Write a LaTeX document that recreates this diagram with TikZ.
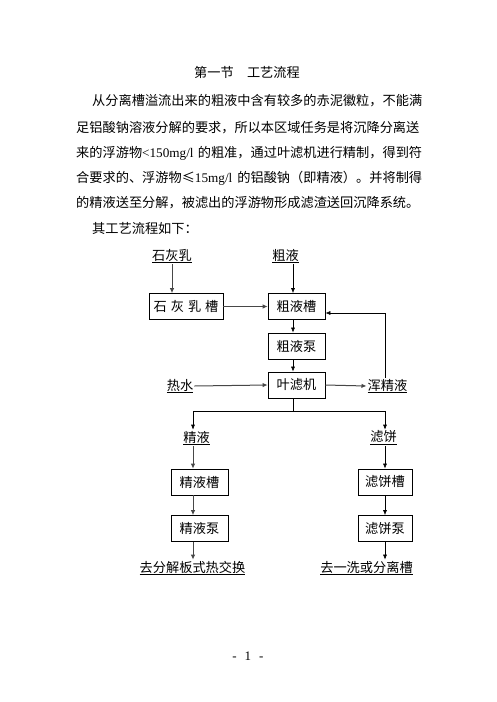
\documentclass[tikz,border=0pt]{standalone}
\usepackage{fontspec}
\setmainfont{Noto Sans CJK SC}
\newfontfamily\lat{Liberation Serif}
\usetikzlibrary{arrows.meta}
% glue between CJK characters, so lines can be justified
\XeTeXinterchartokenstate=1
\newcommand\cjkglue{\hskip 0pt plus 3pt\relax}
\XeTeXinterchartoks 0 1 = {\cjkglue}
\XeTeXinterchartoks 1 0 = {\cjkglue}
\XeTeXinterchartoks 1 1 = {\cjkglue}
\XeTeXinterchartoks 1 2 = {\cjkglue}
\XeTeXinterchartoks 1 3 = {\cjkglue}
\XeTeXinterchartoks 3 1 = {\cjkglue}
\XeTeXinterchartoks 2 1 = {\cjkglue}
\XeTeXinterchartoks 3 2 = {\cjkglue}
\XeTeXinterchartoks 3 0 = {\cjkglue}
\XeTeXinterchartoks 0 2 = {\cjkglue}
\begin{document}
\begin{tikzpicture}[x=1pt,y=-1pt,font=\fontsize{13.2}{16}\selectfont,
				textline/.style={anchor=base west,inner sep=0pt},
				box/.style={draw,line width=0.7pt,minimum width=57pt,minimum height=26pt,inner sep=0pt},
				lbl/.style={inner sep=1pt},
				arr/.style={-{Latex[length=5pt,width=4pt]},line width=0.6pt},
				garr/.style={-{Latex[length=5pt,width=4.5pt]},draw=black!72,line width=1pt}]
\fill[white] (0,0) rectangle (496,702);
\useasboundingbox (0,0) rectangle (496,702);
% text
\node[anchor=base,inner sep=0pt] (title) at (247,77) {第一节\hspace{1em}工艺流程};
\node[textline] (line1) at (92,105) {\makebox[330pt][s]{从分离槽溢流出来的粗液中含有较多的赤泥徽粒，不能满}};
\node[textline] (line2) at (76,132) {\makebox[346pt][s]{足铝酸钠溶液分解的要求，所以本区域任务是将沉降分离送}};
\node[textline] (line3) at (76,157) {\makebox[346pt][s]{来的浮游物{\lat <150mg/l} 的粗准，通过叶滤机进行精制，得到符}};
\node[textline] (line4) at (76,182) {\makebox[346pt][s]{合要求的、浮游物≤{\lat 15mg/l} 的铝酸钠（即精液）。并将制得}};
\node[textline] (line5) at (76,207) {的精液送至分解，被滤出的浮游物形成滤渣送回沉降系统。};
\node[textline] (line6) at (92,233) {其工艺流程如下：};
% columns of the arrows
\coordinate (colA) at (293,0);
\coordinate (colJ) at (193,0);
\coordinate (colL) at (385,0);
\coordinate (fb) at (0,313);
% boxes
\node[box,minimum width=74pt] (shtank) at (186,306.5) {石\hspace{4pt}灰\hspace{4pt}乳\hspace{4pt}槽};
\node[box] (cutank) at (296.5,306.5) {粗液槽};
\node[box] (cupump) at (296.5,346) {粗液泵};
\node[box] (filter) at (296.5,385) {叶滤机};
\node[box] (jtank) at (199.5,482) {精液槽};
\node[box] (jpump) at (199.5,528.5) {精液泵};
\node[box,minimum width=54pt] (ltank) at (385,482) {滤饼槽};
\node[box,minimum width=54pt] (lpump) at (385,528.5) {滤饼泵};
% labels
\node[lbl] (shlbl) at (172,256) {\underline{石灰乳}};
\node[lbl] (culbl) at (285.5,256) {\underline{粗液}};
\node[lbl] (hot) at (180,386) {\underline{热水}};
\node[lbl] (hun) at (387.5,386) {\underline{浑精液}};
\node[lbl] (jlbl) at (196.5,438) {\underline{精液}};
\node[lbl] (llbl) at (383.5,438) {\underline{滤饼}};
\node[lbl] (out1) at (192.5,568) {\underline{去分解板式热交换}};
\node[lbl] (out2) at (366.5,568) {\underline{去一洗或分离槽}};
% connectors
\draw[garr] (shlbl.south) -- (shlbl.south |- shtank.north);
\draw[arr] (culbl.south -| colA) -- (cutank.north -| colA);
\draw[garr] (shtank.east) -- (cutank.west);
\draw[arr] (cutank.south -| colA) -- (cupump.north -| colA);
\draw[arr] (cupump.south -| colA) -- (filter.north -| colA);
\draw[garr] (hot.east) -- (filter.west);
\draw[garr] (filter.east) -- (hun.west);
\draw[arr] (hun.north -| colL) |- (cutank.east |- fb);
\coordinate (split) at (293,411);
\draw[line width=0.6pt] (filter.south -| colA) -- (split);
\draw[arr] (split) -| (jlbl.north -| colJ);
\draw[arr] (split) -| (llbl.north -| colL);
\draw[garr] (jlbl.south -| colJ) -- (jtank.north -| colJ);
\draw[garr] (jtank.south -| colJ) -- (jpump.north -| colJ);
\draw[garr] (jpump.south -| colJ) -- (out1.north -| colJ);
\draw[arr] (llbl.south -| colL) -- (ltank.north -| colL);
\draw[arr] (ltank.south -| colL) -- (lpump.north -| colL);
\draw[arr] (lpump.south -| colL) -- (out2.north -| colL);
% page number
\node[font=\lat\fontsize{13}{15}\selectfont] (pagenum) at (248,656) {-\hspace{8pt}1\hspace{8pt}-};
\end{tikzpicture}
\end{document}
